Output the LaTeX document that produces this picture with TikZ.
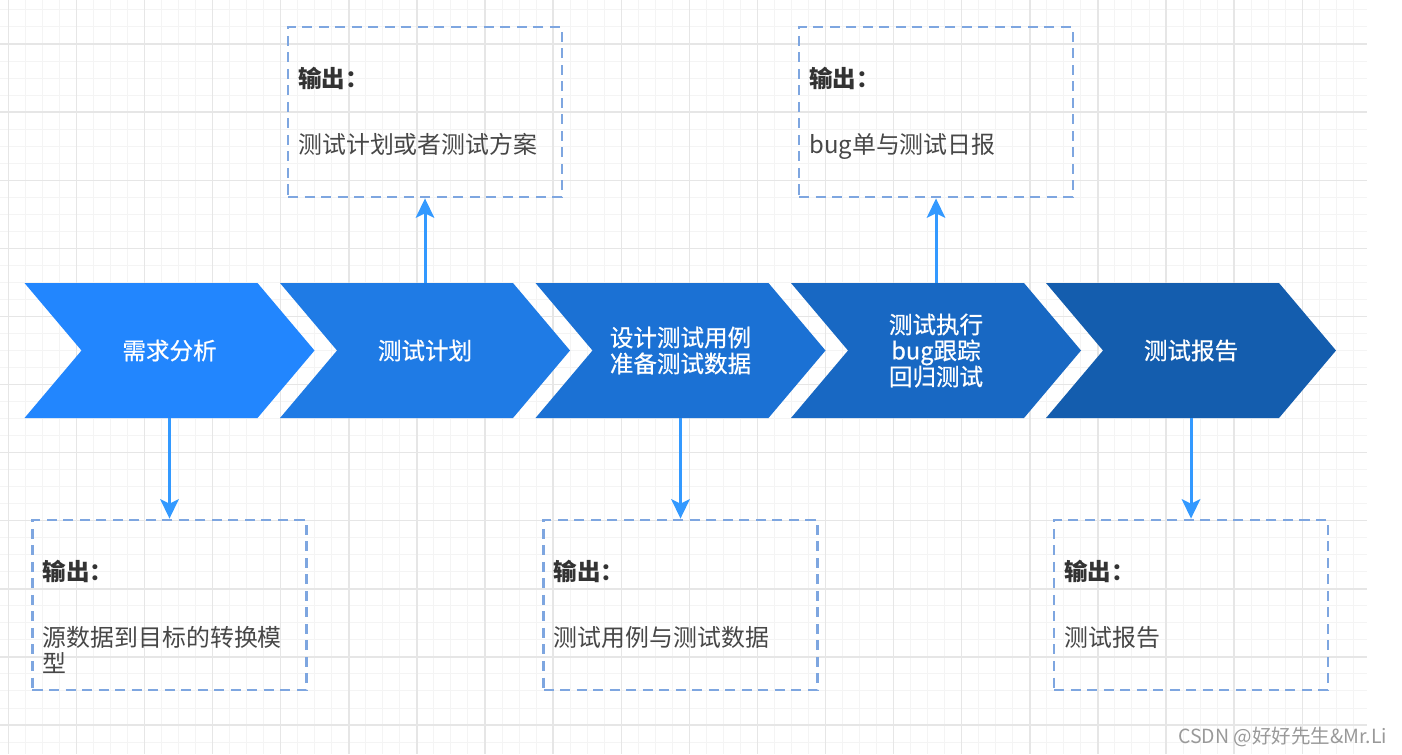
\documentclass[tikz,border=0pt]{standalone}
\usepackage{fontspec}
\newfontfamily\cjk{Noto Sans CJK SC}
\newfontfamily\cjkmid{Noto Sans CJK SC}[FakeBold=0.6]
\usetikzlibrary{arrows.meta}
\definecolor{cA}{HTML}{2286FE}
\definecolor{cB}{HTML}{1F7BE5}
\definecolor{cC}{HTML}{1B71D4}
\definecolor{cD}{HTML}{1868C3}
\definecolor{cE}{HTML}{145DAE}
\definecolor{linkblue}{HTML}{3399FF}
\definecolor{dashblue}{HTML}{7EA6E0}
\definecolor{headgray}{HTML}{333333}
\definecolor{bodygray}{HTML}{474747}
\definecolor{gridminor}{HTML}{F4F4F4}
\definecolor{gridmajor}{HTML}{E6E6E6}
\tikzset{
  chevtext/.style={inner sep=0pt, minimum width=35.2mm, minimum height=27mm, align=center, text=white, font=\cjkmid\fontsize{13.4}{14.8}\selectfont},
  outbox/.style={draw=dashblue, line width=1.6pt, dash pattern=on 5.7pt off 3.7pt, minimum width=54.8mm, minimum height=34mm, inner sep=0pt},
  outhead/.style={anchor=base west, inner sep=0pt, text=headgray, font=\cjk\bfseries\fontsize{13.4}{14.8}\selectfont},
  outbody/.style={anchor=north west, inner sep=0pt, align=left, text=bodygray, font=\cjk\fontsize{13.6}{14.8}\selectfont},
  link/.style={draw=linkblue, line width=1.7pt, -{Stealth[length=11pt, width=10.5pt, inset=2.5pt]}},
  wmark/.style={anchor=west, inner sep=0pt, text=black!40, font=\cjk\fontsize{11.1}{13}\selectfont}
}
\begin{document}
\begin{tikzpicture}[x=0.2mm, y=-0.2mm]
    \useasboundingbox (0,0) rectangle (1402,754);
    % 背景网格
    \foreach \k in {0,...,79}{
       \draw[gridminor, line width=0.55pt] ({8.3+17.025*\k},0)--(8.3+17.025*\k,754);
    }
    \foreach \k in {0,...,43}{
       \draw[gridminor, line width=0.55pt] (0,{9.95+17.025*\k})--(1367,9.95+17.025*\k);
    }
    \foreach \k in {0,...,19}{
       \draw[gridmajor, line width=0.8pt] ({8.3+68.1*\k},0)--(8.3+68.1*\k,754);
    }
    \foreach \k in {0,...,10}{
       \draw[gridmajor, line width=0.8pt] (0,{44+68.1*\k})--(1367,44+68.1*\k);
    }
    % 五个步骤
    \foreach \n/\cx/\col/\txt in {1/169.5/cA/{需求分析},2/425/cB/{测试计划},
        3/680.5/cC/{设计测试用例\\准备测试数据},4/936/cD/{测试执行\\bug跟踪\\回归测试},5/1191/cE/{测试报告}}{
       \fill[\col] (\cx-145,283)--(\cx+88,283)--(\cx+145,350.5)--(\cx+88,418)
                   --(\cx-145,418)--(\cx-88,350.5)--cycle;
       \node[chevtext] (s\n) at (\cx,350.5) {\txt};
    }
    % 输出框：上 2、4，下 1、3、5
    \foreach \n/\bx/\by/\txt in {1/169.5/605/{源数据到目标的转换模\\型},2/425/112/{测试计划或者测试方案},
        3/680.5/605/{测试用例与测试数据},4/936/112/{bug单与测试日报},5/1191/605/{测试报告}}{
       \node[outbox] (b\n) at (\bx,\by) {};
       \node[outhead] (h\n) at (\bx-127,\by-25) {输出：};
       \node[outbody] (t\n) at (\bx-127,\by+21) {\txt};
    }
    \draw[link] (s1.south)--(b1.north);
    \draw[link] (s2.north)--(b2.south);
    \draw[link] (s3.south)--(b3.north);
    \draw[link] (s4.north)--(b4.south);
    \draw[link] (s5.south)--(b5.north);
    \node[wmark] (wm) at (1178,737) {CSDN @好好先生\&Mr.Li};
\end{tikzpicture}
\end{document}
